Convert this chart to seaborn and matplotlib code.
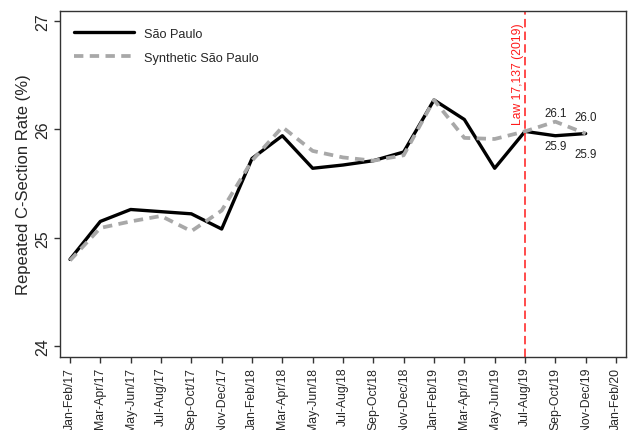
import numpy as np
import pandas as pd
import matplotlib
matplotlib.use("Agg")
import matplotlib.pyplot as plt
import seaborn as sns

# bimonthly periods, Jan-Feb/17 .. Jan-Feb/20
periods = ["Jan-Feb/17", "Mar-Apr/17", "May-Jun/17", "Jul-Aug/17", "Sep-Oct/17", "Nov-Dec/17",
           "Jan-Feb/18", "Mar-Apr/18", "May-Jun/18", "Jul-Aug/18", "Sep-Oct/18", "Nov-Dec/18",
           "Jan-Feb/19", "Mar-Apr/19", "May-Jun/19", "Jul-Aug/19", "Sep-Oct/19", "Nov-Dec/19",
           "Jan-Feb/20"]

sao_paulo = [24.80, 25.15, 25.26, 25.24, 25.22, 25.08,
             25.73, 25.94, 25.64, 25.67, 25.71, 25.79,
             26.27, 26.09, 25.64, 25.98, 25.94, 25.96]
synthetic = [24.79, 25.09, 25.15, 25.20, 25.06, 25.25,
             25.71, 26.02, 25.80, 25.74, 25.71, 25.76,
             26.27, 25.92, 25.91, 25.98, 26.07, 25.96]

law_period = "Jul-Aug/19"
law_label = "Law 17,137 (2019)"

# post-law point labels: (period, text, series value)
labels_top = [("Sep-Oct/19", "26.1", synthetic[16]), ("Nov-Dec/19", "26.0", synthetic[17])]
labels_bot = [("Sep-Oct/19", "25.9", sao_paulo[16]), ("Nov-Dec/19", "25.9", sao_paulo[17])]

df = pd.DataFrame({
    "t": np.arange(len(sao_paulo)),
    "sp": sao_paulo,
    "syn": synthetic,
})

sns.set_style("white")
plt.rcParams["font.family"] = ["Liberation Sans", "DejaVu Sans"]

fig = plt.figure(figsize=(6.31, 4.31), dpi=100)
ax = fig.add_axes([60 / 631, 73 / 431, 566 / 631, 346 / 431])

sns.lineplot(data=df, x="t", y="sp", ax=ax, color="black", linewidth=2.4,
             label="São Paulo")
sns.lineplot(data=df, x="t", y="syn", ax=ax, color="#a8a8a8", linewidth=2.7,
             label="Synthetic São Paulo")
dash = [2.5, 1.7]
ax.lines[1].set_dashes(dash)

law_x = periods.index(law_period)
ax.axvline(law_x, color="#ff1a1a", linestyle=(0, (5.5, 2.8)), linewidth=1.1)
ax.text(law_x - 0.04, 26.05, law_label, rotation=90, color="#ff1a1a", fontsize=8.7,
        ha="right", va="bottom")

# offsets in points
for (p, txt, v), o in zip(labels_top, [1.6, 7.3]):
    ax.annotate(txt, (periods.index(p), v), xytext=(0, o), textcoords="offset points",
                ha="center", va="bottom", fontsize=8.3, color="#222222")
for (p, txt, v), o in zip(labels_bot, [-3.3, -10.4]):
    ax.annotate(txt, (periods.index(p), v), xytext=(0, o), textcoords="offset points",
                ha="center", va="top", fontsize=8.3, color="#222222")

ax.set_xlim(-0.33, 18.33)
ax.set_ylim(23.9, 27.09)
ax.set_xticks(range(len(periods)))
ax.set_xticklabels(periods, rotation=90, fontsize=8.8)
ax.set_yticks([24, 25, 26, 27])
ax.set_yticklabels(["24", "25", "26", "27"], rotation=90, va="center", fontsize=11.5)
ax.set_xlabel("")
ax.set_ylabel("Repeated C-Section Rate (%)", fontsize=12, labelpad=3)

ax.tick_params(axis="both", direction="out", length=4.5, width=1, color="#333333",
               left=True, bottom=True, pad=2.5)
for s in ax.spines.values():
    s.set_color("#333333")
    s.set_linewidth(1)

leg = ax.legend(loc="upper left", frameon=False, fontsize=9.2, handlelength=4.7,
                handletextpad=0.78, labelspacing=0.94, borderaxespad=0.66,
                bbox_to_anchor=(0.0, 1 - 3 / 346))
leg.get_lines()[1].set_dashes(dash)

fig.savefig("out.png", dpi=100)
